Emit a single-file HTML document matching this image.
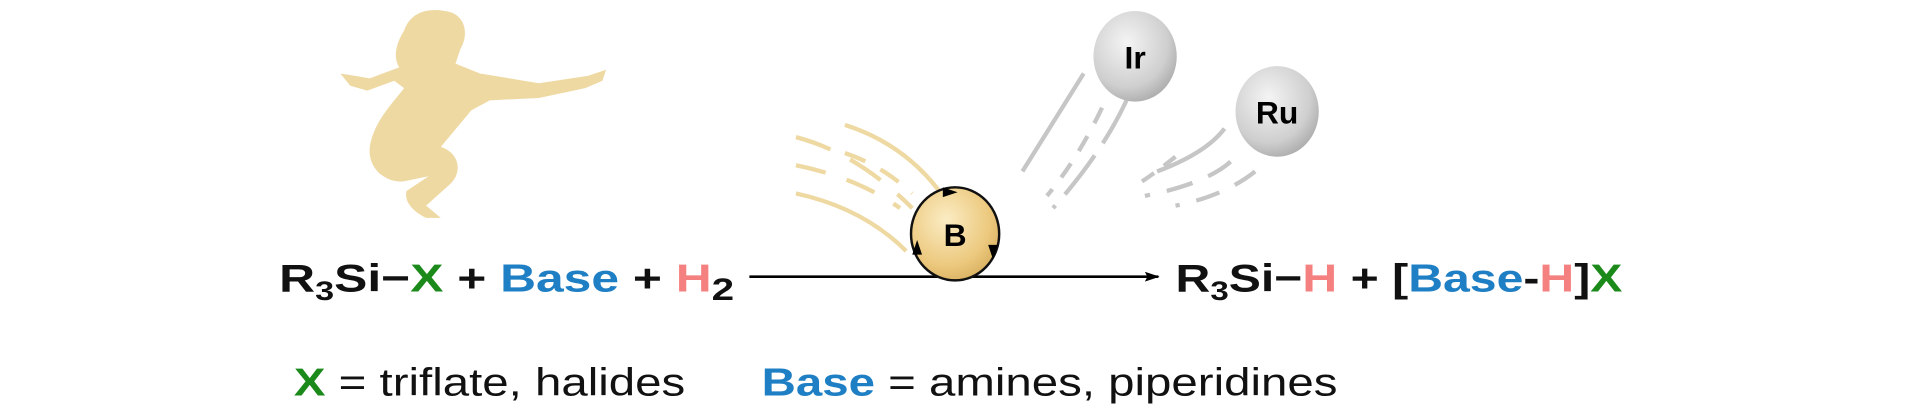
<!DOCTYPE html>
<html><head><meta charset="utf-8"><style>
html,body{margin:0;padding:0;background:#fff;width:1920px;height:417px;overflow:hidden}
svg{display:block}
text{font-family:"Liberation Sans",Arial,sans-serif}
</style></head><body>
<svg width="1920" height="417" viewBox="0 0 1568 340.6" preserveAspectRatio="none" xmlns="http://www.w3.org/2000/svg">
<defs>
<radialGradient id="gy" cx="0.4" cy="0.35" r="0.7"><stop offset="0" stop-color="#fbecc4"/><stop offset="0.7" stop-color="#ecc97e"/><stop offset="1" stop-color="#d9b060"/></radialGradient>
<radialGradient id="gg" cx="0.4" cy="0.35" r="0.7"><stop offset="0" stop-color="#f4f4f4"/><stop offset="0.7" stop-color="#cfcfcf"/><stop offset="1" stop-color="#aaa"/></radialGradient>
<marker id="ah" markerWidth="12" markerHeight="8" refX="11" refY="4" orient="auto" markerUnits="userSpaceOnUse"><path d="M0,0 L12,4 L0,8 L2,4z" fill="#000"/></marker>
</defs>
<g fill="#efd9a3">
<path d="M330,25 C335,10 350,5 368,10 C380,14 383,28 376,40 L372,52 L392,60 L440,68 L480,62 L495,57 L492,66 L478,72 L440,80 L400,82 L385,90 L360,120 C375,125 378,140 368,150 L348,168 L360,178 L348,178 C336,172 330,164 332,156 L350,144 L330,148 C318,150 300,140 302,120 C305,100 320,85 330,72 L322,66 L300,74 L286,70 L278,60 L290,62 L302,64 L326,55 C320,45 325,33 330,25z"/>
</g>
<g fill="none" stroke="#efd9a3" stroke-width="3.5">
<path d="M650,112 Q700,125 745,170" stroke-dasharray="30 18"/>
<path d="M650,135 Q700,145 735,170" stroke-dasharray="25 18"/>
<path d="M650,158 Q705,170 740,205"/>
<path d="M690,102 Q740,118 770,160"/>
<path d="M690,125 Q720,135 745,158" stroke-dasharray="18 14"/>
</g>
<g fill="none" stroke="#c6c6c6" stroke-width="3.5">
<path d="M885,60 Q860,100 835,140"/>
<path d="M900,88 Q880,130 855,160" stroke-dasharray="14 12"/>
<path d="M920,82 Q900,125 860,170" stroke-dasharray="40 12"/>
<path d="M1000,105 Q985,125 945,140"/>
<path d="M1005,132 Q985,150 935,160" stroke-dasharray="22 14"/>
<path d="M1025,140 Q1000,160 960,168" stroke-dasharray="20 14"/>
<path d="M960,128 Q945,140 930,150" stroke-dasharray="12 10"/>
</g>
<line x1="612" y1="226" x2="946" y2="226" stroke="#000" stroke-width="2.2" marker-end="url(#ah)"/>
<ellipse cx="780" cy="191" rx="36" ry="38" fill="url(#gy)" stroke="#111" stroke-width="2"/>
<path d="M770,153 l12,4 l-12,4z" fill="#000"/>
<path d="M745,208 l4,-12 l4,12z" fill="#000"/>
<path d="M815,200 l-4,12 l-4,-12z" fill="#000"/>
<text x="780" y="201" font-size="26" font-weight="bold" text-anchor="middle">B</text>
<ellipse cx="927" cy="46" rx="34" ry="37" fill="url(#gg)"/>
<text x="927" y="56" font-size="26" font-weight="bold" text-anchor="middle">Ir</text>
<ellipse cx="1043" cy="91" rx="34" ry="37" fill="url(#gg)"/>
<text x="1043" y="101" font-size="26" font-weight="bold" text-anchor="middle">Ru</text>
<g transform="translate(228,0) scale(1.27,1)">
<text x="0" y="238" font-size="32" font-weight="bold" fill="#111">R<tspan font-size="22" dy="7">3</tspan><tspan dy="-7">Si−</tspan><tspan fill="#1b8a1b">X</tspan> + <tspan fill="#1f7fc4">Base</tspan> + <tspan fill="#f58080">H</tspan><tspan font-size="26" dy="7">2</tspan></text>
</g>
<g transform="translate(960,0) scale(1.23,1)">
<text x="0" y="238" font-size="32" font-weight="bold" fill="#111">R<tspan font-size="22" dy="7">3</tspan><tspan dy="-7">Si−</tspan><tspan fill="#f58080">H</tspan> + [<tspan fill="#1f7fc4">Base</tspan>-<tspan fill="#f58080">H</tspan>]<tspan fill="#1b8a1b">X</tspan></text>
</g>
<g transform="translate(240,0) scale(1.21,1)">
<text x="0" y="323" font-size="32" fill="#111"><tspan font-weight="bold" fill="#1b8a1b">X</tspan> = triflate, halides</text>
</g>
<g transform="translate(622,0) scale(1.21,1)">
<text x="0" y="323" font-size="32" fill="#111"><tspan font-weight="bold" fill="#1f7fc4">Base</tspan> = amines, piperidines</text>
</g>
</svg>
</body></html>
